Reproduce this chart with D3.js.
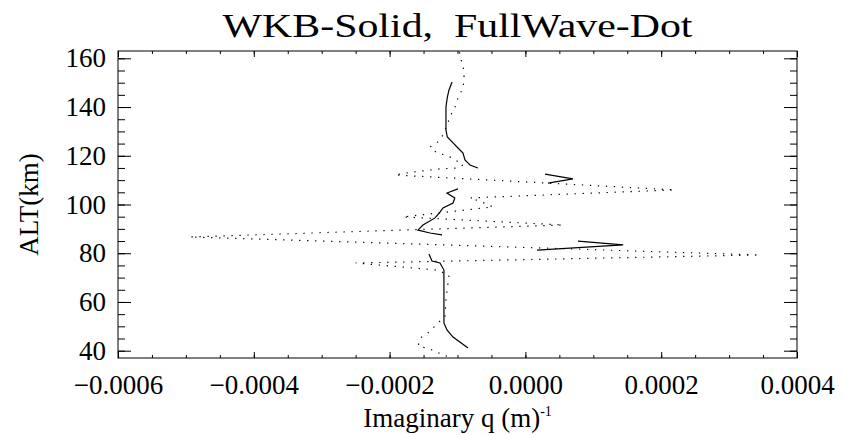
<!DOCTYPE html>
<html>
<head>
<meta charset="utf-8">
<script src="https://cdn.jsdelivr.net/npm/d3@7"></script>
<style>
  html, body { margin: 0; padding: 0; background: #fff; }
  svg text { font-family: "Liberation Serif", "Times New Roman", Times, "DejaVu Serif", serif; fill: #000; }
</style>
</head>
<body>
<svg id="chart" width="844" height="435"></svg>
<script>
// WKB solution (solid); null breaks the curve where the solution is not defined
const wkbAlt = [150.3, 147.0, 144.0, 140.0, 135.0, 130.6, 127.7, 125.7, 123.2, 121.1, 118.3, 116.2, 115.0,
  null,
  112.5, 110.5, 108.8,
  null,
  106.4, 104.7, 102.7, 100.6, 98.6, 96.9, 94.5, 91.6, 89.5, 88.3, 87.5,
  null,
  85.0, 83.4, 81.3,
  null,
  79.7, 76.8, 76.0, 73.1, 69.0, 60.0, 51.4, 48.5, 45.6, 41.1];
const wkbQ = [-0.000108, -0.0001125, -0.000115, -0.000117, -0.000117, -0.000117, -0.000115, -0.000108, -0.0000993, -0.0000919, -0.000089, -0.0000816, -0.000070,
  null,
  0.0000289, 0.000070, 0.0000333,
  null,
  -0.0000993, -0.0001155, -0.000104, -0.0001066, -0.0001214, -0.0001258, -0.0001331, -0.0001508, -0.0001582, -0.0001405, -0.0001228,
  null,
  0.0000775, 0.000144, 0.0000171,
  null,
  -0.000142, -0.0001376, -0.0001258, -0.00012, -0.00012, -0.00012, -0.00012, -0.0001155, -0.0001066, -0.0000845];

// Full-wave solution (dotted)
const fwAlt = [162.5, 160.5, 157.3, 154.0, 150.3, 147.0, 143.7, 140.0, 136.7, 132.6, 128.5, 125.7, 123.6, 121.1, 120.3, 119.0, 116.2,
  115.0, 114.6, 113.8, 113.0, 112.1, 106.0, 102.7, 101.0, 99.0, 94.9, 91.6, 86.7, 79.3, 76.0, 73.1, 71.0, 67.8, 60.8, 53.8,
  51.4, 49.3, 47.3, 45.2, 41.9, 41.1, 39.9, 38.2, 37.4];
const fwQ = [-0.000097, -0.0000963, -0.0000919, -0.0000904, -0.0000904, -0.0000934, -0.0000993, -0.0001037, -0.000110, -0.0001155, -0.0001214, -0.000129, -0.0001405, -0.000130, -0.000118, -0.000107, -0.0000919,
  -0.0001, -0.000126, -0.000151, -0.000174, -0.000192, 0.00022, -0.0000816, -0.0000639, -0.0000477, -0.0001803, 0.0000554, -0.000494, 0.000345, -0.000250, -0.000130, -0.0001125, -0.000114, -0.000117, -0.0001184,
  -0.000129, -0.000136, -0.0001435, -0.000155, -0.000158, -0.0001464, -0.0001331, -0.0001214, -0.000111];

// Axis ticks
const xMajor = [-0.0006, -0.0004, -0.0002, 0.0000, 0.0002, 0.0004];
const xMinor = d3.range(-0.0006, 0.00040001, 0.00005);
const yMajor = [40, 60, 80, 100, 120, 140, 160];
const yMinor = d3.range(40, 161, 5);

const titleText = "WKB-Solid,  FullWave-Dot";
const yLabel = "ALT(km)";

const FONT = '"Liberation Serif", "Times New Roman", Times, serif';

const svg = d3.select("#chart");
const m = { left: 118, right: 797, top: 51, bottom: 358 };

const x = d3.scaleLinear().domain([-0.0006, 0.0004]).range([m.left, m.right]);
const y = d3.scaleLinear().domain([37, 163]).range([m.bottom, m.top]);

const fmtX = d3.format(".4f");

function styleAxis(g) {
  g.attr("font-family", FONT);
  g.select(".domain").remove();
  g.selectAll(".tick line").attr("stroke", "#000").attr("stroke-width", 1);
}

// bottom: majors with labels, then minors
svg.append("g").attr("transform", `translate(0,${m.bottom})`)
  .call(d3.axisBottom(x).tickValues(xMajor).tickSize(-6).tickSizeOuter(0).tickPadding(17).tickFormat(fmtX))
  .call(styleAxis)
  .call(g => g.selectAll("text").attr("font-size", 27));
svg.append("g").attr("transform", `translate(0,${m.bottom})`)
  .call(d3.axisBottom(x).tickValues(xMinor).tickSize(-3).tickSizeOuter(0).tickFormat(""))
  .call(styleAxis);
// top
svg.append("g").attr("transform", `translate(0,${m.top})`)
  .call(d3.axisTop(x).tickValues(xMajor).tickSize(-6).tickSizeOuter(0).tickFormat(""))
  .call(styleAxis);
svg.append("g").attr("transform", `translate(0,${m.top})`)
  .call(d3.axisTop(x).tickValues(xMinor).tickSize(-3).tickSizeOuter(0).tickFormat(""))
  .call(styleAxis);
// left
svg.append("g").attr("transform", `translate(${m.left},0)`)
  .call(d3.axisLeft(y).tickValues(yMajor).tickSize(-13).tickSizeOuter(0).tickPadding(12).tickFormat(d3.format("d")))
  .call(styleAxis)
  .call(g => g.selectAll("text").attr("font-size", 27));
svg.append("g").attr("transform", `translate(${m.left},0)`)
  .call(d3.axisLeft(y).tickValues(yMinor).tickSize(-7).tickSizeOuter(0).tickFormat(""))
  .call(styleAxis);
// right
svg.append("g").attr("transform", `translate(${m.right},0)`)
  .call(d3.axisRight(y).tickValues(yMajor).tickSize(-13).tickSizeOuter(0).tickFormat(""))
  .call(styleAxis);
svg.append("g").attr("transform", `translate(${m.right},0)`)
  .call(d3.axisRight(y).tickValues(yMinor).tickSize(-7).tickSizeOuter(0).tickFormat(""))
  .call(styleAxis);

// frame
svg.append("rect")
  .attr("x", m.left).attr("y", m.top)
  .attr("width", m.right - m.left).attr("height", m.bottom - m.top)
  .attr("fill", "none").attr("stroke", "#000").attr("stroke-width", 1);

svg.append("clipPath").attr("id", "plotClip").append("rect")
  .attr("x", m.left).attr("y", m.top)
  .attr("width", m.right - m.left).attr("height", m.bottom - m.top);

const line = d3.line()
  .defined(d => d.alt !== null && d.q !== null)
  .x(d => x(d.q))
  .y(d => y(d.alt));

const wkb = wkbAlt.map((a, i) => ({ alt: a, q: wkbQ[i] }));
const fw = fwAlt.map((a, i) => ({ alt: a, q: fwQ[i] }));

const plot = svg.append("g").attr("clip-path", "url(#plotClip)");
plot.append("path").datum(fw)
  .attr("d", line).attr("fill", "none")
  .attr("stroke", "#000").attr("stroke-width", 1.2)
  .attr("stroke-dasharray", "1.3,6.7");
plot.append("path").datum(wkb)
  .attr("d", line).attr("fill", "none")
  .attr("stroke", "#000").attr("stroke-width", 1.2);

// title
svg.append("text")
  .attr("x", (m.left + m.right) / 2).attr("y", 37)
  .attr("text-anchor", "middle").attr("font-size", 34)
  .attr("font-family", FONT)
  .attr("textLength", 470).attr("lengthAdjust", "spacingAndGlyphs")
  .style("white-space", "pre")
  .text(titleText);

// x label with superscript
const xl = svg.append("text")
  .attr("x", (m.left + m.right) / 2).attr("y", 427)
  .attr("text-anchor", "middle").attr("font-size", 27)
  .attr("font-family", FONT)
  .style("white-space", "pre");
xl.append("tspan").text("Imaginary q (m)");
xl.append("tspan").attr("font-size", 14).attr("dy", -11).text("-1");

// y label
svg.append("text")
  .attr("transform", `translate(38,${(m.top + m.bottom) / 2}) rotate(-90)`)
  .attr("text-anchor", "middle").attr("font-size", 27)
  .attr("font-family", FONT)
  .text(yLabel);
</script>
</body>
</html>
